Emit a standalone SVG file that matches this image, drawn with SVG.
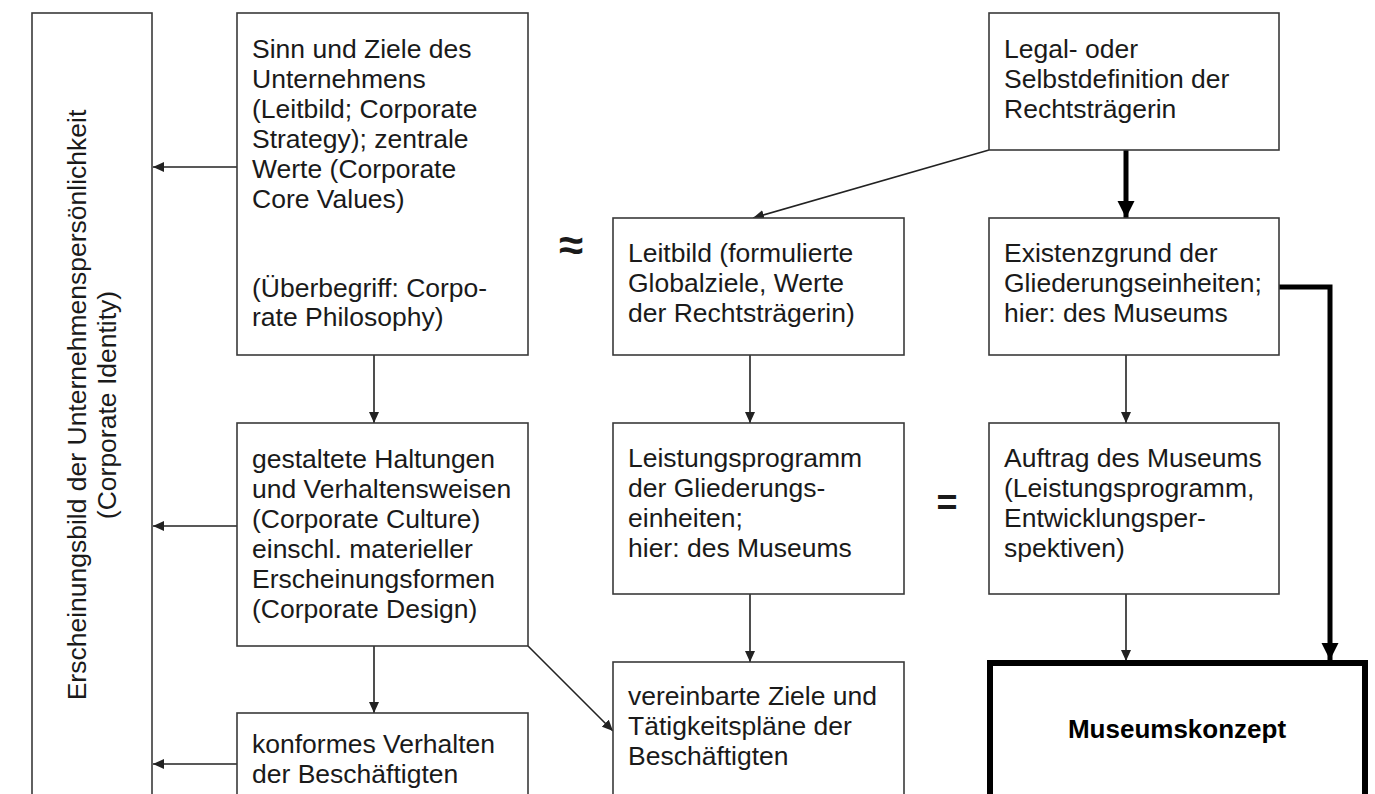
<svg xmlns="http://www.w3.org/2000/svg" width="1375" height="794" viewBox="0 0 1375 794">
  <style>
    .box { fill: #ffffff; stroke: #3a3a3a; stroke-width: 1.6; }
    .heavy { fill: #ffffff; stroke: #000000; stroke-width: 6; }
    .t { font-family: "Liberation Sans", Arial, sans-serif; font-size: 26.5px; fill: #1a1a1a; }
    .b { font-family: "Liberation Sans", Arial, sans-serif; font-size: 26px; font-weight: bold; fill: #000000; }
    .sym { font-family: "Liberation Sans", Arial, sans-serif; font-weight: bold; fill: #1a1a1a; }
    .ln { fill: none; stroke: #222222; stroke-width: 1.6; }
    .thick { fill: none; stroke: #000000; stroke-width: 5; }
  </style>
  <defs>
    <marker id="arr" markerUnits="userSpaceOnUse" markerWidth="12" markerHeight="10" refX="11" refY="5" orient="auto">
      <path d="M0,0 L11,5 L0,10 z" fill="#222222"/>
    </marker>
    <marker id="arrBig" markerUnits="userSpaceOnUse" markerWidth="18" markerHeight="18" refX="17" refY="8.5" orient="auto">
      <path d="M0,0 L17,8.5 L0,17 z" fill="#000000"/>
    </marker>
  </defs>

  <rect width="1375" height="794" fill="#ffffff"/>

  <!-- connectors -->
  <g id="connectors">
    <line class="ln" x1="237" y1="167" x2="153" y2="167" marker-end="url(#arr)"/>
    <line class="ln" x1="237" y1="526" x2="153" y2="526" marker-end="url(#arr)"/>
    <line class="ln" x1="237" y1="764" x2="153" y2="764" marker-end="url(#arr)"/>
    <line class="ln" x1="374" y1="355" x2="374" y2="423" marker-end="url(#arr)"/>
    <line class="ln" x1="374" y1="646" x2="374" y2="713" marker-end="url(#arr)"/>
    <line class="ln" x1="528" y1="646" x2="613" y2="731" marker-end="url(#arr)"/>
    <line class="ln" x1="750" y1="355" x2="750" y2="423" marker-end="url(#arr)"/>
    <line class="ln" x1="750" y1="594" x2="750" y2="662" marker-end="url(#arr)"/>
    <line class="ln" x1="989" y1="150" x2="753" y2="218" marker-end="url(#arr)"/>
    <line class="ln" x1="1126" y1="355" x2="1126" y2="423" marker-end="url(#arr)"/>
    <line class="ln" x1="1126" y1="594" x2="1126" y2="661" marker-end="url(#arr)"/>
    <line class="thick" x1="1126" y1="150" x2="1126" y2="218" marker-end="url(#arrBig)"/>
    <polyline class="thick" points="1279,287 1330,287 1330,660" marker-end="url(#arrBig)"/>
  </g>

  <!-- vertical caption box -->
  <g id="identity">
    <rect class="box" x="32" y="13" width="120" height="800"/>
    <text class="t" transform="translate(86,405) rotate(-90)" text-anchor="middle">Erscheinungsbild der Unternehmenspersönlichkeit</text>
    <text class="t" transform="translate(116,405) rotate(-90)" text-anchor="middle">(Corporate Identity)</text>
  </g>

  <g id="philosophy">
    <rect class="box" x="237" y="13" width="291" height="342"/>
    <text class="t" x="252" y="58">Sinn und Ziele des</text>
    <text class="t" x="252" y="88">Unternehmens</text>
    <text class="t" x="252" y="118">(Leitbild; Corporate</text>
    <text class="t" x="252" y="148">Strategy); zentrale</text>
    <text class="t" x="252" y="178">Werte (Corporate</text>
    <text class="t" x="252" y="208">Core Values)</text>
    <text class="t" x="252" y="297">(Überbegriff: Corpo-</text>
    <text class="t" x="252" y="326">rate Philosophy)</text>
  </g>

  <g id="culture">
    <rect class="box" x="237" y="423" width="291" height="223"/>
    <text class="t" x="252" y="468">gestaltete Haltungen</text>
    <text class="t" x="252" y="498">und Verhaltensweisen</text>
    <text class="t" x="252" y="528">(Corporate Culture)</text>
    <text class="t" x="252" y="558">einschl. materieller</text>
    <text class="t" x="252" y="588">Erscheinungsformen</text>
    <text class="t" x="252" y="618">(Corporate Design)</text>
  </g>

  <g id="behaviour">
    <rect class="box" x="237" y="713" width="291" height="100"/>
    <text class="t" x="252" y="753">konformes Verhalten</text>
    <text class="t" x="252" y="783">der Beschäftigten</text>
  </g>

  <g id="leitbild">
    <rect class="box" x="613" y="218" width="291" height="137"/>
    <text class="t" x="628" y="262">Leitbild (formulierte</text>
    <text class="t" x="628" y="292">Globalziele, Werte</text>
    <text class="t" x="628" y="322">der Rechtsträgerin)</text>
  </g>

  <g id="leistungsprogramm">
    <rect class="box" x="613" y="423" width="291" height="171"/>
    <text class="t" x="628" y="467">Leistungsprogramm</text>
    <text class="t" x="628" y="497">der Gliederungs-</text>
    <text class="t" x="628" y="527">einheiten;</text>
    <text class="t" x="628" y="557">hier: des Museums</text>
  </g>

  <g id="zielvereinbarung">
    <rect class="box" x="613" y="662" width="291" height="151"/>
    <text class="t" x="628" y="705">vereinbarte Ziele und</text>
    <text class="t" x="628" y="735">Tätigkeitspläne der</text>
    <text class="t" x="628" y="765">Beschäftigten</text>
  </g>

  <g id="legaldefinition">
    <rect class="box" x="989" y="13" width="290" height="137"/>
    <text class="t" x="1004" y="58">Legal- oder</text>
    <text class="t" x="1004" y="88">Selbstdefinition der</text>
    <text class="t" x="1004" y="118">Rechtsträgerin</text>
  </g>

  <g id="existenzgrund">
    <rect class="box" x="989" y="218" width="290" height="137"/>
    <text class="t" x="1004" y="262">Existenzgrund der</text>
    <text class="t" x="1004" y="292">Gliederungseinheiten;</text>
    <text class="t" x="1004" y="322">hier: des Museums</text>
  </g>

  <g id="auftrag">
    <rect class="box" x="989" y="423" width="290" height="171"/>
    <text class="t" x="1004" y="467">Auftrag des Museums</text>
    <text class="t" x="1004" y="497">(Leistungsprogramm,</text>
    <text class="t" x="1004" y="527">Entwicklungsper-</text>
    <text class="t" x="1004" y="557">spektiven)</text>
  </g>

  <g id="museumskonzept">
    <rect class="heavy" x="990" y="663" width="375" height="160"/>
    <text class="b" x="1177" y="738" text-anchor="middle">Museumskonzept</text>
  </g>

  <!-- relation signs -->
  <g id="signs">
    <text class="sym" x="571" y="260" font-size="44" text-anchor="middle">≈</text>
    <text class="sym" x="947" y="515" font-size="36" text-anchor="middle">=</text>
  </g>
</svg>
